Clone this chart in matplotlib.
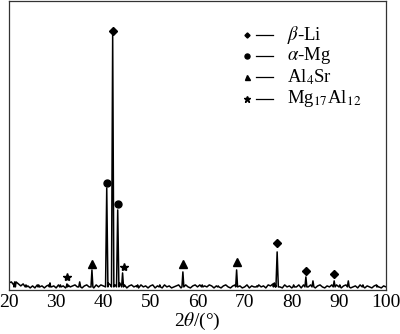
import numpy as np
import matplotlib
matplotlib.use('agg')
import matplotlib.pyplot as plt

plt.rcParams['font.family'] = ['Liberation Serif', 'DejaVu Serif']
plt.rcParams['mathtext.fontset'] = 'stix'

# baseline noise, read every 0.5 deg from 20 to 100 (arbitrary intensity units)
base_start = 20.0
base_step = 0.5
baseline = [7, 8, 5, 8, 6, 4, 6, 3, 4, 2,
            4, 2, 5, 3, 4, 2, 4, 5, 3, 4,
            2, 5, 3, 4, 2, 5, 3, 4, 5, 3,
            5, 2, 4, 5, 3, 4, 2, 5, 3, 5,
            4, 6, 7, 5, 7, 5, 6, 7, 4, 5,
            2, 4, 5, 3, 4, 2, 5, 3, 4, 2,
            4, 5, 2, 4, 3, 2, 5, 3, 4, 2,
            3, 4, 5, 2, 4, 5, 3, 2, 4, 5,
            3, 5, 2, 4, 3, 5, 4, 2, 4, 3,
            2, 4, 5, 3, 2, 4, 5, 3, 4, 2,
            3, 5, 2, 4, 3, 2, 5, 3, 4, 2,
            5, 4, 6, 5, 4, 3, 2, 5, 3, 4,
            2, 5, 3, 5, 2, 5, 4, 3, 5, 4,
            2, 4, 5, 3, 2, 4, 3, 5, 2, 5,
            3, 2, 4, 5, 4, 2, 3, 4, 2, 5,
            3, 2, 4, 3, 2, 4, 5, 3, 2, 4,
            3]

# diffraction peaks: position (2theta), height, half width
peak_pos = [21.2, 23.6, 26.3, 28.7, 30.9, 32.3, 35.0, 37.6, 40.74, 42.0, 43.07, 44.1,
            47.3, 52.0, 56.9, 61.0, 64.4, 68.3, 72.6, 76.3, 76.9, 80.4, 83.0, 84.5,
            89.0, 90.2, 92.0, 95.1, 98.2]
peak_height = [8, 5, 5, 7, 5, 6, 8, 20, 102, 255, 80, 17,
               5, 5, 18, 5, 4, 20, 4, 7, 38, 5, 13, 9,
               9, 5, 9, 5, 4]
peak_hw = [0.15, 0.15, 0.15, 0.15, 0.15, 0.15, 0.2, 0.2, 0.25, 0.25, 0.25, 0.2,
           0.15, 0.15, 0.2, 0.15, 0.15, 0.2, 0.15, 0.2, 0.25, 0.15, 0.2, 0.2,
           0.2, 0.15, 0.2, 0.15, 0.15]
peak_base = 3

# phase markers
li_x, li_y = [42.0, 76.9, 83.0, 89.0], [259, 47, 19, 16]
mg_x, mg_y = [40.7, 43.1], [107, 86]
alsr_x, alsr_y = [37.6, 56.9, 68.3], [26, 26, 28]
mgal_x, mgal_y = [32.3, 44.4], [13, 23]

legend_labels = [r'$\beta$-Li', r'$\alpha$-Mg', r'Al$_\mathrm{4}$Sr', r'Mg$_\mathrm{17}$Al$_\mathrm{12}$']

# build the pattern: baseline points outside peaks plus peak triangles
base_x = base_start + base_step * np.arange(len(baseline))
pts = []
for bx, by in zip(base_x, baseline):
    if all(abs(bx - p) >= w for p, w in zip(peak_pos, peak_hw)):
        pts.append((bx, by))
for p, h, w in zip(peak_pos, peak_height, peak_hw):
    pts += [(p - w, peak_base), (p, h), (p + w, peak_base)]
pts.sort()
tt = np.array([q[0] for q in pts])
ii = np.array([q[1] for q in pts])

fig = plt.figure(figsize=(4.0, 3.34), dpi=100)
ax = fig.add_axes([0.0225, 0.132, 0.9425, 0.865])
ax.plot(tt, ii, color='k', lw=1.1)

ax.plot(li_x, li_y, ls='', marker='D', ms=3.6, color='k')
ax.plot(mg_x, mg_y, ls='', marker='o', ms=5, color='k')
ax.plot(alsr_x, alsr_y, ls='', marker='^', ms=5.5, color='k')
ax.plot(mgal_x, mgal_y, ls='', marker='*', ms=6, color='k')

# hand-made legend
leg_markers = ['D', 'o', '^', '*']
leg_ms = [2.6, 3.6, 3.6, 4.5]
leg_y = [0.882, 0.810, 0.737, 0.661]
for m, s, y, lab in zip(leg_markers, leg_ms, leg_y, legend_labels):
    ax.plot([0.631], [y], marker=m, ms=s, color='k', transform=ax.transAxes, clip_on=False)
    ax.plot([0.655, 0.700], [y, y], color='k', lw=0.9, transform=ax.transAxes)
    ax.text(0.737, y, lab, transform=ax.transAxes, fontsize=13.5, va='center', ha='left')

ax.set_xlim(20, 100)
ax.set_ylim(0, 289)
ax.set_xticks(np.arange(20, 101, 10))
ax.set_yticks([])
ax.tick_params(axis='x', length=0, pad=3, labelsize=14)
ax.set_xlabel(r'2$\theta$/(°)', fontsize=14, labelpad=0)
for sp in ax.spines.values():
    sp.set_linewidth(0.9)
    sp.set_color('#333333')

fig.savefig('out.png', dpi=100)
plt.close(fig)
